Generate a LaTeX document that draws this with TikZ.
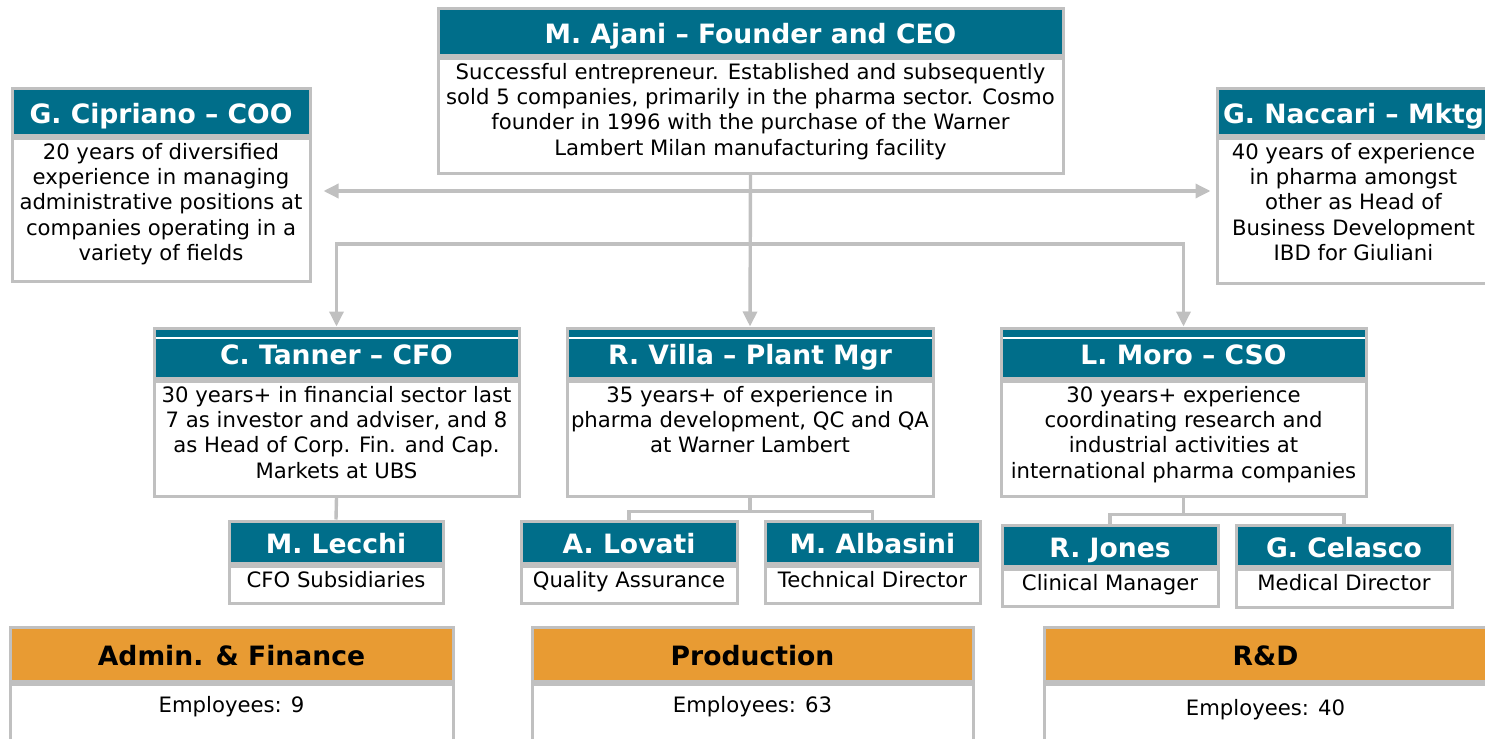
\documentclass[tikz,border=0pt]{standalone}
\usepackage{fontspec}
\setmainfont{DejaVu Sans}
\usetikzlibrary{arrows.meta}
\definecolor{headteal}{HTML}{006E8A}
\definecolor{deptorange}{HTML}{E89B33}
\definecolor{rulegray}{HTML}{C0C0C0}
\begin{document}
\begin{tikzpicture}[x=0.5pt,y=-0.5pt,
  head/.style={draw=rulegray, line width=1.5pt, fill=headteal, text=white, inner sep=0pt,
    text height=13.6pt, text depth=2pt, font=\bfseries\fontsize{13.3}{15}\selectfont},
  body/.style={draw=rulegray, line width=1.5pt, fill=white, inner sep=0pt, anchor=north},
  bodytext/.style={anchor=north, align=center, inner sep=0pt, yshift=-3.2pt,
    font=\fontsize{10.6}{12.6}\selectfont},
  dept/.style={head, fill=deptorange, text=black},
  splithead/.style={path picture={\draw[white, line width=0.6pt]
    ([yshift=-5pt]path picture bounding box.north west) -- ([yshift=-5pt]path picture bounding box.north east);}},
  link/.style={draw=rulegray, line width=1.7pt},
  tip/.tip={Triangle[length=7.5pt, width=7pt]},
  arrow/.style={link, -tip}]
\useasboundingbox (0,0) rectangle (1485,739);
\clip (0,0) rectangle (1485,739);

% founder
\node[head, minimum width=312.5pt, minimum height=23.5pt] (ceo-head) at (750.5,31.5) {M. Ajani – Founder and CEO};
\node[body, minimum width=312.5pt, minimum height=57.5pt,
  label={[bodytext]north:{Successful entrepreneur. Established and subsequently\\sold 5 companies, primarily in the pharma sector. Cosmo\\founder in 1996 with the purchase of the Warner\\Lambert Milan manufacturing facility}}]
  (ceo-body) at (ceo-head.south) {};

% staff
\node[head, minimum width=149pt, minimum height=23.5pt] (coo-head) at (161,111.5) {G. Cipriano – COO};
\node[body, minimum width=149pt, minimum height=71.5pt,
  label={[bodytext]north:{20 years of diversified\\experience in managing\\administrative positions at\\companies operating in a\\variety of fields}}]
  (coo-body) at (coo-head.south) {};
\node[head, minimum width=136.5pt, minimum height=23.5pt] (mktg-head) at (1353.5,111.5) {G. Naccari – Mktg};
\node[body, minimum width=136.5pt, minimum height=72.5pt,
  label={[bodytext]north:{40 years of experience\\in pharma amongst\\other as Head of\\Business Development\\IBD for Giuliani}}]
  (mktg-body) at (mktg-head.south) {};

% directors
\node[head, splithead, minimum width=182.5pt, minimum height=25pt] (tanner-head) at (336.5,353) {C. Tanner – CFO};
\node[body, minimum width=182.5pt, minimum height=57.5pt,
  label={[bodytext]north:{30 years+ in financial sector last\\7 as investor and adviser, and 8\\as Head of Corp. Fin. and Cap.\\Markets at UBS}}]
  (tanner-body) at (tanner-head.south) {};
\node[head, splithead, minimum width=183pt, minimum height=25pt] (villa-head) at (750,353) {R. Villa – Plant Mgr};
\node[body, minimum width=183pt, minimum height=57.5pt,
  label={[bodytext]north:{35 years+ of experience in\\pharma development, QC and QA\\at Warner Lambert}}]
  (villa-body) at (villa-head.south) {};
\node[head, splithead, minimum width=182.5pt, minimum height=25pt] (moro-head) at (1183.5,353) {L. Moro – CSO};
\node[body, minimum width=182.5pt, minimum height=57.5pt,
  label={[bodytext]north:{30 years+ experience\\coordinating research and\\industrial activities at\\international pharma companies}}]
  (moro-body) at (moro-head.south) {};

% managers
\node[head, minimum width=107pt, minimum height=21pt] (lecchi-head) at (336,542) {M. Lecchi};
\node[body, minimum width=107pt, minimum height=18.5pt, label={[bodytext]north:{CFO Subsidiaries}}]
  (lecchi-body) at (lecchi-head.south) {};
\node[head, minimum width=108pt, minimum height=21pt] (lovati-head) at (629,542) {A. Lovati};
\node[body, minimum width=108pt, minimum height=18.5pt, label={[bodytext]north:{Quality Assurance}}]
  (lovati-body) at (lovati-head.south) {};
\node[head, minimum width=107.5pt, minimum height=21pt] (albasini-head) at (872.5,542) {M. Albasini};
\node[body, minimum width=107.5pt, minimum height=18.5pt, label={[bodytext]north:{Technical Director}}]
  (albasini-body) at (albasini-head.south) {};
\node[head, minimum width=108pt, minimum height=20.5pt] (jones-head) at (1110,545.5) {R. Jones};
\node[body, minimum width=108pt, minimum height=18.5pt, label={[bodytext]north:{Clinical Manager}}]
  (jones-body) at (jones-head.south) {};
\node[head, minimum width=108pt, minimum height=20.5pt] (celasco-head) at (1344,545.5) {G. Celasco};
\node[body, minimum width=108pt, minimum height=19pt, label={[bodytext]north:{Medical Director}}]
  (celasco-body) at (celasco-head.south) {};

% departments
\node[dept, minimum width=221.5pt, minimum height=27pt] (admin-head) at (231.5,654) {Admin. \& Finance};
\node[body, minimum width=221.5pt, minimum height=40pt, label={[bodytext, yshift=-3.5pt]north:{Employees: 9}}]
  (admin-body) at (admin-head.south) {};
\node[dept, minimum width=220.5pt, minimum height=27pt] (prod-head) at (752.5,654) {Production};
\node[body, minimum width=220.5pt, minimum height=40pt, label={[bodytext, yshift=-3.5pt]north:{Employees: 63}}]
  (prod-body) at (prod-head.south) {};
\node[dept, minimum width=221.5pt, minimum height=27pt] (rd-head) at (1265.5,654) {R\&D};
\node[body, minimum width=221.5pt, minimum height=40pt, label={[bodytext, yshift=-5pt]north:{Employees: 40}}]
  (rd-body) at (rd-head.south) {};

% connectors
\coordinate (ceo-arm) at (750.5,191);
\coordinate (staff-bar) at (750.5,244);
\draw[arrow] (ceo-body.south) -- (villa-head.north);
\draw[link, tip-tip] ([xshift=6pt]coo-body.east |- ceo-arm) -- ([xshift=-2.5pt]mktg-body.west |- ceo-arm);
\draw[arrow] (staff-bar) -| (tanner-head.north);
\draw[arrow] (staff-bar) -| (moro-head.north);
\draw[link] (tanner-body.south) -- (lecchi-head.north);
\draw[link] (villa-body.south) -- ++(0,14) -| (lovati-head.north);
\draw[link] (villa-body.south) -- ++(0,14) -| (albasini-head.north);
\draw[link] (moro-body.south) -- ++(0,17) -| (jones-head.north);
\draw[link] (moro-body.south) -- ++(0,17) -| (celasco-head.north);
\end{tikzpicture}
\end{document}
